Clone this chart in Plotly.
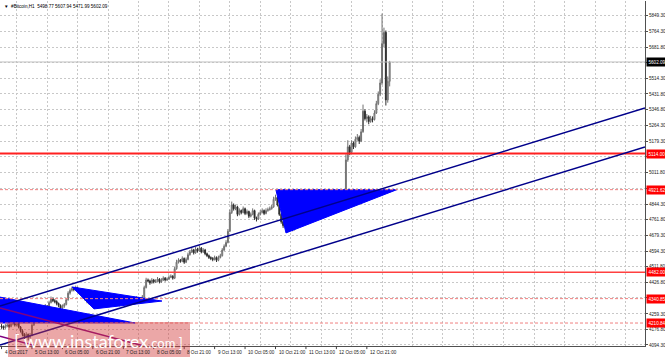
import plotly.graph_objects as go

# ---------------- data ----------------
opens = [4195,4190,4185,4195,4200,4192,4205,4210,4200,4215,4190,4170,4150,4140,4150,4135,4145,4200,4250,4290,
         4285,4295,4280,4290,4300,4295,4320,4340,4330,4325,4315,4305,4290,4300,4310,4335,4370,4385,4395,4390,
         4398,4385,4380,4365,4350,4335,4325,4320,4330,4315,4325,4335,4340,4345,4330,4340,4335,4330,4320,4325,
         4335,4315,4320,4310,4325,4330,4320,4325,4335,4330,4340,4330,4345,4335,4340,4350,4400,4440,4435,4425,
         4440,4430,4435,4445,4430,4440,4450,4440,4445,4455,4460,4450,4500,4535,4545,4540,4555,4535,4550,4575,
         4590,4600,4585,4605,4595,4610,4590,4600,4580,4570,4560,4555,4550,4560,4545,4560,4570,4600,4620,4640,
         4700,4800,4840,4820,4830,4790,4810,4800,4820,4795,4805,4780,4790,4810,4770,4765,4790,4800,4810,4795,
         4810,4815,4820,4830,4870,4880,4840,4790,4750,4730,4740,4720,4715,4735,4710,4725,4740,4730,4745,4760,
         4740,4770,4755,4780,4790,4800,4775,4810,4800,4790,4800,4815,4805,4820,4810,4830,4825,4840,4850,4835,
         4860,4880,5080,5150,5120,5170,5150,5190,5200,5180,5230,5340,5300,5310,5285,5300,5295,5330,5380,5430,
         5490,5700,5760,5400,5498.77]
highs = [4205,4198,4205,4212,4208,4215,4225,4218,4228,4220,4195,4178,4158,4162,4155,4158,4210,4262,4305,4300,
         4308,4302,4298,4312,4306,4330,4352,4346,4338,4332,4320,4310,4310,4318,4345,4380,4395,4405,4402,4410,
         4404,4394,4386,4372,4356,4342,4332,4340,4335,4334,4344,4350,4356,4350,4348,4346,4342,4336,4334,4344,
         4340,4330,4326,4334,4340,4336,4334,4344,4342,4350,4346,4354,4350,4348,4360,4410,4452,4448,4442,4450,
         4446,4444,4456,4450,4450,4460,4456,4454,4465,4470,4466,4512,4548,4556,4552,4566,4560,4560,4586,4600,
         4612,4606,4616,4612,4622,4616,4610,4606,4586,4576,4566,4562,4570,4566,4570,4580,4610,4630,4652,4712,
         4815,4858,4848,4842,4836,4822,4816,4832,4826,4816,4810,4800,4822,4815,4778,4800,4812,4822,4816,4822,
         4826,4832,4842,4884,4895,4886,4846,4796,4756,4752,4746,4728,4746,4740,4736,4752,4746,4756,4772,4766,
         4782,4776,4792,4802,4812,4806,4822,4816,4806,4812,4826,4820,4832,4826,4842,4836,4852,4862,4856,4872,
         4892,5110,5185,5160,5185,5178,5205,5218,5210,5245,5375,5350,5325,5318,5315,5312,5345,5395,5445,5510,
         5860,5785,5770,5525,5607.94]
lows = [4180,4175,4180,4188,4182,4188,4198,4192,4195,4182,4160,4140,4125,4132,4118,4128,4140,4195,4245,4275,
        4280,4270,4272,4285,4285,4290,4315,4322,4316,4305,4295,4278,4284,4292,4305,4330,4362,4378,4380,4385,
        4378,4372,4358,4342,4328,4316,4310,4314,4306,4310,4318,4328,4332,4322,4325,4326,4322,4310,4314,4318,
        4305,4308,4300,4304,4318,4312,4314,4318,4322,4325,4322,4325,4328,4330,4335,4345,4395,4428,4415,4420,
        4422,4424,4430,4422,4425,4435,4432,4435,4440,4450,4442,4445,4495,4528,4532,4535,4526,4530,4545,4570,
        4584,4576,4580,4586,4590,4582,4584,4572,4562,4552,4546,4540,4544,4536,4540,4555,4565,4595,4615,4635,
        4695,4792,4810,4812,4780,4784,4790,4795,4786,4788,4770,4774,4785,4760,4752,4760,4784,4795,4786,4790,
        4804,4810,4815,4825,4862,4832,4782,4740,4718,4724,4708,4698,4710,4700,4704,4720,4722,4725,4740,4732,
        4735,4746,4750,4775,4785,4766,4770,4792,4782,4785,4795,4796,4800,4802,4805,4816,4820,4835,4826,4830,
        4855,4872,5070,5105,5112,5138,5145,5182,5165,5175,5225,5290,5280,5270,5278,5280,5290,5325,5372,5420,
        5480,5680,5370,5385,5471.99]
closes = [4190,4185,4195,4200,4192,4205,4210,4200,4215,4190,4170,4150,4140,4150,4135,4145,4200,4250,4290,4285,
          4295,4280,4290,4300,4295,4320,4340,4330,4325,4315,4305,4290,4300,4310,4335,4370,4385,4395,4390,4398,
          4385,4380,4365,4350,4335,4325,4320,4330,4315,4325,4335,4340,4345,4330,4340,4335,4330,4320,4325,4335,
          4315,4320,4310,4325,4330,4320,4325,4335,4330,4340,4330,4345,4335,4340,4350,4400,4440,4435,4425,4440,
          4430,4435,4445,4430,4440,4450,4440,4445,4455,4460,4450,4500,4535,4545,4540,4555,4535,4550,4575,4590,
          4600,4585,4605,4595,4610,4590,4600,4580,4570,4560,4555,4550,4560,4545,4560,4570,4600,4620,4640,4700,
          4800,4840,4820,4830,4790,4810,4800,4820,4795,4805,4780,4790,4810,4770,4765,4790,4800,4810,4795,4810,
          4815,4820,4830,4870,4880,4840,4790,4750,4730,4740,4720,4715,4735,4710,4725,4740,4730,4745,4760,4740,
          4770,4755,4780,4790,4800,4775,4810,4800,4790,4800,4815,4805,4820,4810,4830,4825,4840,4850,4835,4860,
          4880,5080,5150,5120,5170,5150,5190,5200,5180,5230,5340,5300,5310,5285,5300,5295,5330,5380,5430,5490,
          5700,5760,5400,5499,5602.09]
bar_index = list(range(len(closes)))  # hourly bars from 4 Oct 2017 21:00

x_tick_pos = [0, 16, 32, 48, 64, 80, 96, 112, 128, 144, 160, 176, 192]
x_tick_text = ["4 Oct 2017", "5 Oct 13:00", "6 Oct 05:00", "6 Oct 21:00", "7 Oct 13:00", "8 Oct 05:00",
               "8 Oct 21:00", "9 Oct 13:00", "10 Oct 05:00", "10 Oct 21:00", "11 Oct 13:00",
               "12 Oct 05:00", "12 Oct 21:00"]
x_grid_pos = [8 + 16 * k for k in range(21)]

y_ticks = [4094.30, 4176.80, 4259.30, 4344.30, 4426.80, 4511.80, 4594.30, 4679.30, 4761.80, 4844.30,
           4929.30, 5011.80, 5096.80, 5179.30, 5264.30, 5346.80, 5431.80, 5514.30, 5596.80, 5681.80,
           5764.30, 5849.30]

red_levels = [5114.00, 4482.00]
pink_levels = [4921.62, 4340.85, 4210.84]
last_price = 5602.09

tri1_x = [-0.8, -0.8, 70.2]
tri1_y = [4349, 4211, 4211]
tri2_x = [37.1, 84.3, 48.6]
tri2_y = [4403, 4328, 4286]
tri3_x = [144.2, 207.8, 149.5]
tri3_y = [4921.62, 4921.62, 4691]

chan_up_x = [-0.8, 338.2]
chan_up_y = [4301, 5357]
chan_lo_x = [-0.8, 338.2]
chan_lo_y = [4094, 5149]
purple1_x = [-0.8, 74.3]
purple1_y = [4291, 4090]
purple2_x = [-0.8, 17.6]
purple2_y = [4141, 4090]

X_RANGE = [-0.8, 338.2]
Y_RANGE = [4088.4, 5927.0]

fig = go.Figure()

for tx, ty in [(tri1_x, tri1_y), (tri2_x, tri2_y), (tri3_x, tri3_y)]:
    fig.add_trace(go.Scatter(x=tx + [tx[0]], y=ty + [ty[0]], mode="lines", fill="toself",
                             fillcolor="#0000ff", line=dict(color="#0000ff", width=1),
                             hoverinfo="skip", showlegend=False))

# horizontal levels
fig.add_trace(go.Scatter(x=X_RANGE, y=[last_price, last_price], mode="lines",
                         line=dict(color="#c0c0c0", width=1), showlegend=False, hoverinfo="skip"))
for lv in pink_levels:
    fig.add_trace(go.Scatter(x=X_RANGE, y=[lv, lv], mode="lines",
                             line=dict(color="#f08080", width=1, dash="3px,2px"),
                             showlegend=False, hoverinfo="skip"))
fig.add_trace(go.Scatter(x=X_RANGE, y=[red_levels[0]] * 2, mode="lines",
                         line=dict(color="#ff2020", width=2), showlegend=False, hoverinfo="skip"))
fig.add_trace(go.Scatter(x=X_RANGE, y=[red_levels[1]] * 2, mode="lines",
                         line=dict(color="#ff4040", width=1.5), showlegend=False, hoverinfo="skip"))

fig.add_trace(go.Candlestick(x=bar_index, open=opens, high=highs, low=lows, close=closes,
                             increasing=dict(line=dict(color="#707070", width=1), fillcolor="#c8c8c8"),
                             decreasing=dict(line=dict(color="#303030", width=1), fillcolor="#000000"),
                             whiskerwidth=0, showlegend=False, hoverinfo="skip"))

for lx, ly, col in [(chan_up_x, chan_up_y, "#00008b"), (chan_lo_x, chan_lo_y, "#00008b"),
                    (purple1_x, purple1_y, "#800080"), (purple2_x, purple2_y, "#800080")]:
    fig.add_trace(go.Scatter(x=lx, y=ly, mode="lines", line=dict(color=col, width=1.5),
                             showlegend=False, hoverinfo="skip"))

FONT = "Liberation Sans, Arial, sans-serif"
ann = []
for pos, txt in zip(x_tick_pos, x_tick_text):
    ann.append(dict(x=pos, xref="x", y=0, yref="paper", text=txt, showarrow=False,
                    xanchor="left", yanchor="top", xshift=1, yshift=-2,
                    font=dict(size=4.6, color="#202020", family=FONT)))
for lv in red_levels + pink_levels:
    ann.append(dict(x=1, xref="paper", y=lv, yref="y", text=f"{lv:.2f}", showarrow=False,
                    xanchor="left", yanchor="middle", xshift=1, bgcolor="#ff0000", borderpad=1.5,
                    font=dict(size=4.6, color="#ffffff", family=FONT)))
ann.append(dict(x=1, xref="paper", y=last_price, yref="y", text=f"{last_price:.2f}", showarrow=False,
                xanchor="left", yanchor="middle", xshift=1, bgcolor="#000000", borderpad=1.5,
                font=dict(size=4.6, color="#ffffff", family=FONT)))
ann.append(dict(x=0, xref="paper", y=1, yref="paper", xanchor="left", yanchor="top", xshift=2, yshift=-1,
                text="▼  #Bitcoin,H1  5498.77 5607.94 5471.99 5602.09", showarrow=False,
                font=dict(size=4.6, color="#000000", family=FONT)))
ann.append(dict(x=(12 / 645), xref="paper", y=(346 - 341) / 345, yref="paper", xanchor="left",
                yanchor="middle",
                text="[ www.instaforex<span style='font-size:13px'>.com ]</span>", showarrow=False,
                font=dict(size=18, color="#ffffff", family="Lato, Open Sans, sans-serif")))

shapes = []
for pos in x_tick_pos:
    shapes.append(dict(type="line", xref="x", yref="paper", x0=pos, x1=pos, y0=0, y1=-0.009,
                       line=dict(color="#404040", width=1)))
shapes.append(dict(type="rect", xref="paper", yref="paper", x0=8 / 645, x1=190 / 645,
                   y0=(346 - 357) / 345, y1=(346 - 322) / 345,
                   fillcolor="rgba(210,60,60,0.45)", line=dict(width=0), layer="above"))

fig.update_layout(
    width=665, height=357,
    margin=dict(l=0, r=20, t=1, b=11),
    paper_bgcolor="#ffffff", plot_bgcolor="#ffffff",
    showlegend=False,
    annotations=ann, shapes=shapes,
    xaxis=dict(range=X_RANGE, tickvals=x_grid_pos, showticklabels=False, ticks="",
               showgrid=True, gridcolor="#c8c8c8", griddash="2px,2px", gridwidth=1,
               zeroline=False, showline=True, linecolor="#505050", linewidth=1,
               rangeslider=dict(visible=False), fixedrange=True),
    yaxis=dict(range=Y_RANGE, side="right", tickvals=y_ticks, ticktext=[f"{v:.2f}" for v in y_ticks],
               showgrid=True, gridcolor="#c8c8c8", griddash="2px,2px", gridwidth=1,
               ticks="outside", ticklen=2, tickcolor="#505050",
               tickfont=dict(size=4.6, color="#202020", family=FONT),
               zeroline=False, showline=True, linecolor="#505050", linewidth=1, fixedrange=True),
)

fig.write_html("out.html")
